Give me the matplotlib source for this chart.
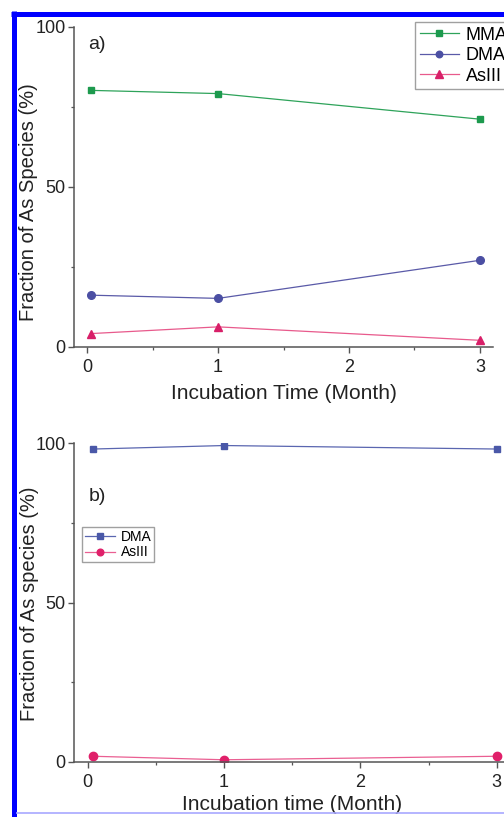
import matplotlib
matplotlib.use("Agg")
import matplotlib.pyplot as plt
from matplotlib.lines import Line2D
from matplotlib.ticker import MultipleLocator

# Data
months_a = [0.03, 1, 3]
mma_a = [80.1, 79.1, 71.1]
dma_a = [16.1, 15.1, 27.0]
as3_a = [4.1, 6.2, 2.0]

months_b = [0.04, 1, 3]
dma_b = [98.2, 99.3, 98.2]
as3_b = [1.8, 0.7, 1.8]

xticks = [0, 1, 2, 3]
yticks = [0, 50, 100]

plt.rcParams['font.family'] = ['Liberation Sans', 'DejaVu Sans']

W, H = 504, 817
fig = plt.figure(figsize=(W / 100, H / 100), dpi=100)
fig.patch.set_facecolor('white')

spine_col = '#555555'
text_col = '#222222'


def style_axes(ax):
    for s in ['top', 'right']:
        ax.spines[s].set_visible(False)
    for s in ['left', 'bottom']:
        ax.spines[s].set_color(spine_col)
        ax.spines[s].set_linewidth(1.1)
    ax.set_ylim(0, 100)
    ax.set_xlim(-0.1, 3.1)
    ax.set_xticks(xticks)
    ax.set_yticks(yticks)
    ax.xaxis.set_minor_locator(MultipleLocator(0.5))
    ax.yaxis.set_minor_locator(MultipleLocator(25))
    ax.tick_params(axis='both', which='major', direction='out', length=4.5, width=1.0,
                   color=spine_col, labelsize=13, labelcolor=text_col)
    ax.tick_params(axis='x', which='major', pad=4)
    ax.tick_params(axis='y', which='major', pad=1.5)
    ax.tick_params(axis='both', which='minor', direction='out', length=2.5, width=0.9, color=spine_col)


# ---- panel a ----
ax1 = fig.add_axes([74 / W, 1 - 346.7 / H, 419 / W, 320 / H])
style_axes(ax1)
ax1.plot(months_a, mma_a, color='#2ea35a', lw=0.9, marker='s', ms=5,
         mfc='#1d9a4e', mec='#1d9a4e', label='MMA')
ax1.plot(months_a, dma_a, color='#5a5aa8', lw=0.9, marker='o', ms=5.5,
         mfc='#4b4fa3', mec='#4b4fa3', label='DMA')
ax1.plot(months_a, as3_a, color='#e85a8c', lw=0.9, marker='^', ms=6,
         mfc='#d81f68', mec='#d81f68', label='AsIII')
ax1.set_xlabel('Incubation Time (Month)', fontsize=15, color=text_col, labelpad=6)
ax1.set_ylabel('Fraction of As Species (%)', fontsize=14.5, color=text_col)
ax1.yaxis.set_label_coords(-0.086, 0.453)
ax1.text(0.005, 94.3, 'a)', fontsize=14, color=text_col, ha='left', va='center')
leg1 = ax1.legend(loc='upper left', bbox_to_anchor=(415 / W, 1 - 22 / H),
                  bbox_transform=fig.transFigure, borderaxespad=0, fontsize=13,
                  frameon=True, fancybox=False, edgecolor='#888888',
                  handlelength=2.2, handletextpad=0.35, labelspacing=0.2,
                  borderpad=0.25, markerscale=0.85)
leg1.get_frame().set_linewidth(1.0)

# ---- panel b ----
ax2 = fig.add_axes([74 / W, 1 - 762 / H, 436.4 / W, 318.7 / H])
style_axes(ax2)
ax2.plot(months_b, dma_b, color='#5a66b0', lw=0.9, marker='s', ms=5,
         mfc='#4a58a8', mec='#4a58a8', label='DMA')
ax2.plot(months_b, as3_b, color='#ea5f92', lw=0.9, marker='o', ms=6,
         mfc='#e0206a', mec='#e0206a', label='AsIII')
ax2.set_xlabel('Incubation time (Month)', fontsize=15, color=text_col, labelpad=3)
ax2.set_ylabel('Fraction of As species (%)', fontsize=14.5, color=text_col)
ax2.yaxis.set_label_coords(-0.080, 0.496)
ax2.text(0.005, 83.3, 'b)', fontsize=14, color=text_col, ha='left', va='center')
leg2 = ax2.legend(loc='upper left', bbox_to_anchor=(82 / W, 1 - 527 / H),
                  bbox_transform=fig.transFigure, borderaxespad=0, fontsize=10,
                  frameon=True, fancybox=False, edgecolor='#888888',
                  handlelength=2.2, handletextpad=0.4, labelspacing=0.12,
                  borderpad=0.2, markerscale=0.8)
leg2.get_frame().set_linewidth(1.0)

# blue frame around the figure
fig.add_artist(Line2D([13.5 / W, 13.5 / W], [0, 1 - 11 / H], color='#0000ff', lw=3.6,
                      transform=fig.transFigure, solid_capstyle='butt'))
fig.add_artist(Line2D([11 / W, 1], [1 - 13.5 / H, 1 - 13.5 / H], color='#0000ff', lw=3.6,
                      transform=fig.transFigure, solid_capstyle='butt'))
fig.add_artist(Line2D([16 / W, 1], [1 - 812.5 / H, 1 - 812.5 / H], color='#a8a8ff', lw=1.2,
                      transform=fig.transFigure, solid_capstyle='butt'))

fig.savefig('out.png', dpi=100, facecolor='white')
